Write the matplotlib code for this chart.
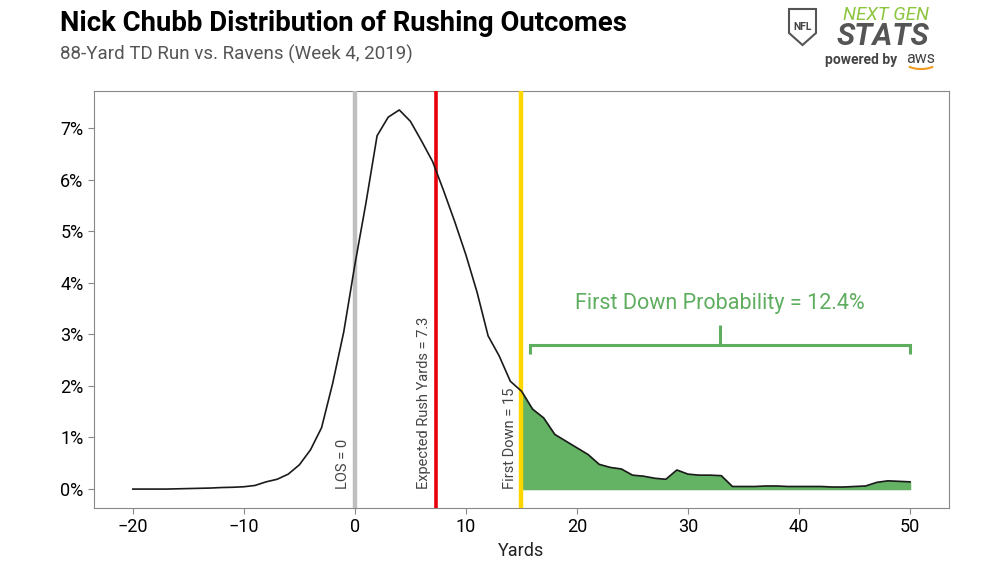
import numpy as np
import matplotlib
matplotlib.use("Agg")
from matplotlib import pyplot as plt
from matplotlib.patches import Polygon, Arc
from matplotlib.ticker import FuncFormatter

# distribution of rushing outcomes (percent) by yards gained
yards = list(range(-20, 51))
pct = [0.00, 0.00, 0.00, 0.00, 0.005, 0.01, 0.015, 0.02, 0.03, 0.035,
       0.045, 0.07, 0.14, 0.19, 0.29, 0.47, 0.76, 1.19, 2.05, 3.05,
       4.35, 5.55, 6.85, 7.21, 7.35, 7.13, 6.75, 6.35, 5.78, 5.18,
       4.54, 3.82, 2.97, 2.58, 2.09, 1.90, 1.55, 1.38, 1.06, 0.93,
       0.80, 0.67, 0.48, 0.42, 0.39, 0.27, 0.25, 0.21, 0.19, 0.37,
       0.29, 0.27, 0.27, 0.26, 0.05, 0.05, 0.05, 0.06, 0.06, 0.05,
       0.05, 0.05, 0.05, 0.04, 0.04, 0.05, 0.06, 0.13, 0.16, 0.15,
       0.14]

los = 0
expected_yards = 7.3
first_down = 15
first_down_prob = 12.4

plt.rcParams['font.family'] = ['Roboto', 'DejaVu Sans']

x = np.array(yards)
y = np.array(pct)

fig = plt.figure(figsize=(10.07, 5.67), dpi=100)
ax = fig.add_axes([0.0933, 0.104, 0.849, 0.7355])

ax.plot(x, y, color='#1a1a1a', lw=1.2, zorder=4)
mask = x >= first_down
ax.fill_between(x[mask], 0, y[mask], color='#64b264', zorder=2)

ax.axvline(los, color='#bfbfbf', lw=3.2, zorder=3)
ax.axvline(expected_yards, color='#e8000b', lw=2.6, zorder=3)
ax.axvline(first_down, color='#ffd700', lw=3.2, zorder=3)

lab_kw = dict(rotation=90, ha='right', va='bottom', fontsize=10.5, color='#444444')
ax.text(los - 0.4, 0.0, 'LOS = %d' % los, **lab_kw)
ax.text(expected_yards - 0.4, 0.0, 'Expected Rush Yards = %.1f' % expected_yards, **lab_kw)
ax.text(first_down - 0.4, 0.0, 'First Down = %d' % first_down, **lab_kw)

# bracket over the first down area
green = '#5fad5f'
bx0, bx1 = 15.8, 50
bmid = (bx0 + bx1) / 2
ax.plot([bx0, bx0, bx1, bx1], [2.62, 2.8, 2.8, 2.62], color=green, lw=2.2,
        solid_capstyle='butt', solid_joinstyle='miter')
ax.plot([bmid, bmid], [2.8, 3.18], color=green, lw=2.2, solid_capstyle='butt')
ax.text(bmid, 3.6, 'First Down Probability = %.1f%%' % first_down_prob,
        ha='center', va='center', fontsize=15.5, color=green)

ax.set_xticks([-20, -10, 0, 10, 20, 30, 40, 50])
ax.set_xticklabels(['\u221220', '\u221210', '0', '10', '20', '30', '40', '50'])
ax.yaxis.set_major_formatter(FuncFormatter(lambda v, p: '%d%%' % round(v)))
ax.set_yticks(range(0, 8))
ax.tick_params(labelsize=13, color='#888888', length=4)
ax.set_xlabel('Yards', fontsize=13, color='#222222')
for s in ax.spines.values():
    s.set_color('#888888')

# titles
fig.text(0.0596, 1 - 31 / 567, 'Nick Chubb Distribution of Rushing Outcomes',
         fontsize=19.8, fontweight='bold', va='baseline', color='black')
fig.text(0.0596, 1 - 60 / 567, '88-Yard TD Run vs. Ravens (Week 4, 2019)',
         fontsize=13.5, va='baseline', color='#555555')

# Next Gen Stats logo (approximation)
W, H = 1007, 567
shield = [(789, 9), (816, 9), (816, 33), (802.5, 45), (789, 33)]
fig.patches.append(Polygon([(px / W, 1 - py / H) for px, py in shield], closed=True,
                           transform=fig.transFigure, facecolor='white',
                           edgecolor='#555555', lw=1.5, figure=fig))
fig.text(802.5 / W, 1 - 27 / H, 'NFL', fontsize=7.5, fontweight='bold',
         ha='center', va='center', color='#444444')
fig.text(886 / W, 1 - 20 / H, 'NEXT GEN', fontsize=13.5, style='italic',
         ha='center', va='baseline', color='#8cc63f')
fig.text(883 / W, 1 - 45 / H, 'STATS', fontsize=22, style='italic', fontweight='bold',
         ha='center', va='baseline', color='#555555')
fig.text(825 / W, 1 - 64 / H, 'powered by', fontsize=10, fontweight='bold',
         ha='left', va='baseline', color='#444444')
fig.text(906 / W, 1 - 63 / H, 'aws', fontsize=11.5,
         ha='left', va='baseline', color='#444444')
fig.patches.append(Arc((921 / W, 1 - 64 / H), 28 / W, 10 / H, theta1=200, theta2=340,
                       transform=fig.transFigure, color='#f29a1f', lw=1.5, figure=fig))

fig.savefig('out.png', dpi=100)
